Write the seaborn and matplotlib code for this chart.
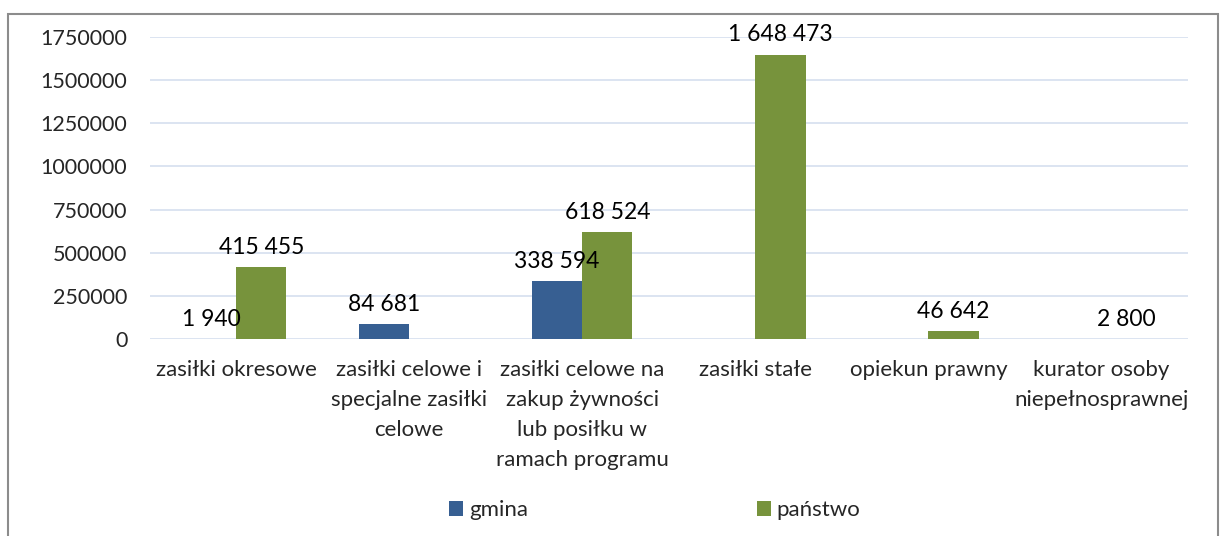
import numpy as np
import pandas as pd
import matplotlib.pyplot as plt
import seaborn as sns
from matplotlib.patches import Rectangle, Patch
from matplotlib.ticker import FuncFormatter

categories = ["zasiłki okresowe",
              "zasiłki celowe i\nspecjalne zasiłki\ncelowe",
              "zasiłki celowe na\nzakup żywności\nlub posiłku w\nramach programu",
              "zasiłki stałe",
              "opiekun prawny",
              "kurator osoby\nniepełnosprawnej"]
gmina = [1940, 84681, 338594, 0, 0, 0]
panstwo = [415455, 0, 618524, 1648473, 46642, 2800]
series = ["gmina", "państwo"]
colors = ["#375F92", "#77933C"]
yticks = [0, 250000, 500000, 750000, 1000000, 1250000, 1500000, 1750000]

df = pd.DataFrame({
    "kategoria": categories * 2,
    "wartosc": gmina + panstwo,
    "seria": [series[0]] * len(categories) + [series[1]] * len(categories),
})

sns.set_style("white")
plt.rcParams['font.family'] = ['Lato', 'DejaVu Sans']

fig = plt.figure(figsize=(12.26, 5.36), dpi=100)
ax = fig.add_axes([0.122, 0.3675, 0.847, 0.5635])

sns.barplot(data=df, x="kategoria", y="wartosc", hue="seria",
            palette=colors, width=0.58, gap=0, saturation=1,
            edgecolor="none", ax=ax, legend=False)

def fmt(v):
    return "" if v == 0 else f"{int(v):,}".replace(",", " ")

for cont in ax.containers:
    labels = [fmt(b.get_height()) for b in cont]
    ax.bar_label(cont, labels=labels, padding=6.5, fontsize=16.5, color="#000000")

ax.set_ylim(0, 1750000)
ax.set_yticks(yticks)
ax.yaxis.set_major_formatter(FuncFormatter(lambda v, p: f"{int(v)}"))
ax.grid(axis="y", color="#D9E2F0", linewidth=1.3)
ax.set_axisbelow(True)
for s in ax.spines.values():
    s.set_visible(False)
ax.tick_params(axis="y", length=0, pad=16, labelsize=15.5)
ax.tick_params(axis="x", length=0, pad=15, labelsize=16)
for t in ax.get_xticklabels():
    t.set_linespacing(1.62)
    t.set_verticalalignment("top")
ax.set_xlabel("")
ax.set_ylabel("")

handles = [Patch(facecolor=c, edgecolor="none") for c in colors]
fig.legend(handles, series, loc="center", bbox_to_anchor=(0.534, 0.048),
           ncol=2, frameon=False, fontsize=16, handlelength=0.63,
           handleheight=0.63, handletextpad=0.25, columnspacing=10.3)

fig.add_artist(Rectangle((0.0065, -0.01), 0.987, 0.984, transform=fig.transFigure,
                         fill=False, edgecolor="#8C8C8C", linewidth=1.5))

fig.savefig("out.png", dpi=100)
